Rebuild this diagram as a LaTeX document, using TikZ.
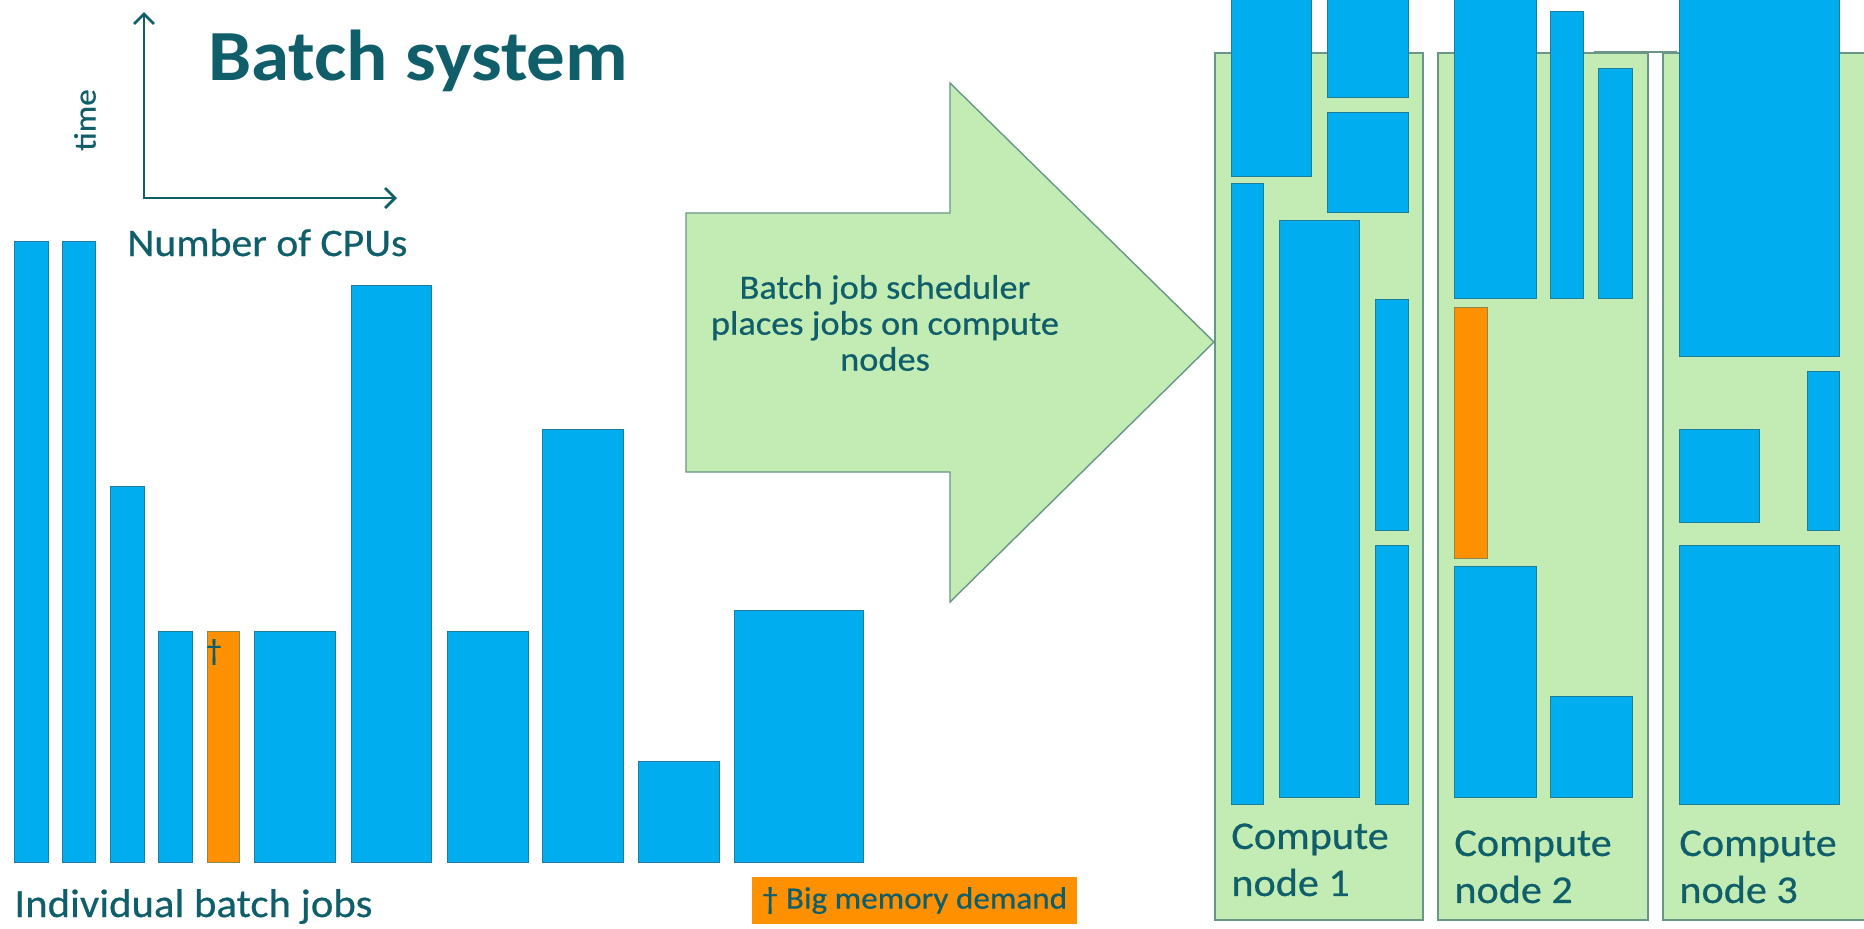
\documentclass[tikz,border=0pt]{standalone}
\usepackage{fontspec}
\setmainfont{Carlito}[FakeStretch=1.07, FakeBold=0.5]
\newfontfamily\titlefont{Carlito}[FakeStretch=1.07]
\usepackage{tikz}
\usetikzlibrary{arrows.meta}

\definecolor{tealtext}{RGB}{16,94,106}
\definecolor{jobblue}{RGB}{0,174,239}
\definecolor{jobedge}{RGB}{30,125,155}
\definecolor{bigmem}{RGB}{255,145,0}
\definecolor{nodegreen}{RGB}{194,236,180}
\definecolor{nodeedge}{RGB}{105,150,135}

\begin{document}
\begin{tikzpicture}[x=0.5pt, y=-0.5pt,
        job/.style={fill=jobblue, draw=jobedge, line width=0.5pt},
        bigjob/.style={fill=bigmem, draw=jobedge!50!bigmem, line width=0.5pt},
        cnode/.style={fill=nodegreen, draw=nodeedge, line width=0.6pt},
        sched/.style={fill=nodegreen, draw=nodeedge, line width=0.7pt},
        axis/.style={draw=tealtext, line width=1.4pt, {Straight Barb[length=5pt,width=10pt]}-{Straight Barb[length=5pt,width=10pt]}},
        txt/.style={text=tealtext, inner sep=0pt},
        legendbox/.style={fill=bigmem, text=tealtext, minimum width=162.5pt, minimum height=23.5pt, inner sep=0pt, font=\fontsize{15.5}{18}\selectfont}
    ]

    \path[fill=white] (0,0) rectangle (1864,928);
    \useasboundingbox (0,0) rectangle (1864,928);

    % Title and axes
    \node[txt, anchor=base west, font=\titlefont\fontsize{36}{40}\selectfont\bfseries] (title) at (208,80) {Batch system};

    \coordinate (origin) at (144,198);
    \coordinate (timetip) at (144,12);
    \coordinate (cputip) at (397,198);
    \draw[axis] (timetip) -- (origin) -- (cputip);

    \node[txt, rotate=90, font=\fontsize{15.5}{18}\selectfont] (time) at (85,120) {time};
    \node[txt, anchor=base west, font=\fontsize{19.5}{22}\selectfont] (cpus) at (127,256) {Number of CPUs};

    % Individual batch jobs
    \foreach \l/\r/\t in {14/48/241, 62/95/241, 110/144/486, 158/192/631, 254/335/631,
                          351/431/285, 447/528/631, 542/623/429, 638/719/761, 734/863/610}
        \draw[job] (\l,\t) rectangle (\r,862);
    \draw[bigjob] (207,631) rectangle (239,862);
    \node[txt, font=\fontsize{15}{18}\selectfont] (dagger) at (214,652) {\textdagger};

    \node[txt, anchor=base west, font=\fontsize{20}{24}\selectfont] (jobs) at (14,917) {Individual batch jobs};
    \node[legendbox] (bigmemnote) at (914.5,900.5) {\textdagger{} Big memory demand};

    % Scheduler arrow
    \draw[sched] (686,213) -- (950,213) -- (950,83) -- (1214,342) -- (950,602) -- (950,472) -- (686,472) -- cycle;
    \node[txt, align=center, font=\fontsize{17}{18}\selectfont] (schedtext) at (885,323)
        {Batch job scheduler\\places jobs on compute\\nodes};

    % Compute nodes
    \foreach \l/\r in {1215/1423, 1438/1648, 1663/1872}
        \draw[cnode] (\l,53) rectangle (\r,920);
    \draw[nodeedge, line width=0.6pt] (1594,52) -- (1677,52);

    % Jobs placed on the nodes
    \foreach \l/\r/\t/\b in {1231/1311/-5/176, 1327/1408/-5/97, 1327/1408/112/212, 1231/1263/183/804,
                             1279/1359/220/797, 1375/1408/299/530, 1375/1408/545/804,
                             1454/1536/-5/298, 1550/1583/11/298, 1598/1632/68/298,
                             1454/1536/566/797, 1550/1632/696/797,
                             1679/1839/-5/356, 1807/1839/371/530, 1679/1759/429/522, 1679/1839/545/804}
        \draw[job] (\l,\t) rectangle (\r,\b);
    \draw[bigjob] (1454,307) rectangle (1487,558);

    \node[txt, anchor=north west, align=left, font=\fontsize{19.7}{23.5}\selectfont] (cn1) at (1231,823) {Compute\\node 1};
    \node[txt, anchor=north west, align=left, font=\fontsize{19.7}{23.5}\selectfont] (cn2) at (1454,830) {Compute\\node 2};
    \node[txt, anchor=north west, align=left, font=\fontsize{19.7}{23.5}\selectfont] (cn3) at (1679,830) {Compute\\node 3};

\end{tikzpicture}
\end{document}
